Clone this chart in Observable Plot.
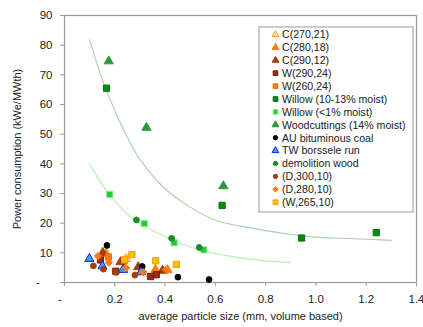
<!DOCTYPE html>
<html><head><meta charset="utf-8">
<script src="https://cdn.jsdelivr.net/npm/d3@7"></script>
<script src="https://cdn.jsdelivr.net/npm/@observablehq/plot@0.6"></script>
<style>
body{margin:0;background:#fff;font-family:"Liberation Sans",Arial,sans-serif;}
#chart{position:relative;width:423px;height:327px;overflow:hidden;}
</style></head>
<body><div id="chart"></div>
<script>
// ---- data (x: average particle size mm, y: power consumption kWe/MWth)
const xTicks = [0, 0.2, 0.4, 0.6, 0.8, 1.0, 1.2, 1.4];
const yTicks = [0, 10, 20, 30, 40, 50, 60, 70, 80, 90];

const c270_21 = [[0.16, 10.5], [0.245, 8.0]];
const c280_18 = [[0.165, 9.6], [0.362, 4.3], [0.41, 4.2]];
const c290_12 = [[0.152, 10.0], [0.223, 6.9], [0.293, 5.2], [0.39, 4.0]];
const w290_24 = [[0.143, 7.6], [0.204, 3.8], [0.342, 2.0], [0.365, 2.6]];
const w260_24 = [[0.175, 8.6], [0.239, 7.5]];
const willow1013 = [[0.167, 65.5], [0.627, 26.0], [0.943, 15.0], [1.24, 16.8]];
const willowDry = [[0.18, 29.7], [0.317, 19.9], [0.436, 13.4], [0.554, 11.0]];
const woodcuttings = [[0.176, 74.6], [0.326, 52.2], [0.632, 32.5]];
const auCoal = [[0.169, 12.5], [0.309, 5.4], [0.451, 1.8], [0.575, 1.0]];
const twBorssele = [[0.099, 8.0], [0.151, 5.5], [0.233, 4.3], [0.304, 3.5]];
const demolition = [[0.286, 21.1], [0.426, 14.9], [0.536, 11.8]];
const d300_10 = [[0.115, 5.6], [0.155, 4.5], [0.205, 3.4], [0.28, 2.5]];
const d280_10 = [[0.133, 8.9], [0.176, 6.7], [0.245, 4.9], [0.313, 3.5], [0.404, 4.3]];
const w265_10 = [[0.268, 9.4], [0.363, 7.3], [0.445, 6.1], [0.239, 7.8]];

const trendUpper = [[0.1, 81.8], [0.15, 68.5], [0.2, 58], [0.25, 49], [0.3, 41.5], [0.4, 31.6], [0.5, 25.4], [0.6, 21], [0.7, 19], [0.8, 17.5], [0.9, 16.2], [1.0, 15.3], [1.1, 14.9], [1.2, 14.6], [1.3, 14.2]];
const trendLower = [[0.1, 40], [0.15, 33], [0.2, 27.5], [0.25, 23], [0.3, 20], [0.35, 17.5], [0.4, 15.5], [0.45, 13.5], [0.5, 12.0], [0.55, 10.8], [0.6, 9.8], [0.7, 8.3], [0.8, 7.3], [0.9, 6.7]];

const series = [
  {label: "C(270,21)", data: c270_21, symbol: "triangle", fill: "#ffe6b0", stroke: "#ff9a1a"},
  {label: "C(280,18)", data: c280_18, symbol: "triangle", fill: "#ff7a10", stroke: "#ff7a10"},
  {label: "C(290,12)", data: c290_12, symbol: "triangle", fill: "#a0400f", stroke: "#a0400f"},
  {label: "W(290,24)", data: w290_24, symbol: "square", fill: "#9a2a10", stroke: "#7a1a08"},
  {label: "W(260,24)", data: w260_24, symbol: "square", fill: "#ff7a10", stroke: "#f06a00"},
  {label: "Willow (10-13% moist)", data: willow1013, symbol: "square", fill: "#0a8a1a", stroke: "#067010"},
  {label: "Willow (<1% moist)", data: willowDry, symbol: "square", fill: "#22cc33", stroke: "#88ee88"},
  {label: "Woodcuttings (14% moist)", data: woodcuttings, symbol: "triangle", fill: "#2a9a3a", stroke: "#2a9a3a"},
  {label: "AU bituminous coal", data: auCoal, symbol: "circle", fill: "#000000", stroke: "#000000"},
  {label: "TW borssele run", data: twBorssele, symbol: "triangle", fill: "#3aa0ff", stroke: "#0a28e0"},
  {label: "demolition wood", data: demolition, symbol: "circle", fill: "#1f8a2a", stroke: "#1f8a2a"},
  {label: "(D,300,10)", data: d300_10, symbol: "circle", fill: "#a0400f", stroke: "#a0400f"},
  {label: "(D,280,10)", data: d280_10, symbol: "diamond2", fill: "#ff7a10", stroke: "#ff7a10"},
  {label: "(W,265,10)", data: w265_10, symbol: "square", fill: "#ffc000", stroke: "#ff9a00"}
];
const sizeOf = s => s === "circle" ? 2.9 : s === "square" ? 3.5 : s === "diamond2" ? 3.3 : 3.4;

const chart = Plot.plot({
  width: 423,
  height: 327,
  marginLeft: 64,
  marginRight: 7,
  marginTop: 15,
  marginBottom: 45,
  style: {fontFamily: "'Liberation Sans', Arial, sans-serif", fontSize: "11px", color: "#222", background: "#fff"},
  x: {domain: [0, 1.4]},
  y: {domain: [0, 90]},
  marks: [
    Plot.frame({stroke: "#999", strokeWidth: 1.2}),
    Plot.axisY(yTicks, {tickSize: 4, tickPadding: 8, tickFormat: d => d === 0 ? "-\u00a0\u00a0\u00a0\u00a0" : d, stroke: "#999", fill: "#222", fontSize: 11.5, label: null}),
    Plot.axisX(xTicks, {tickSize: 4, tickPadding: 8, tickFormat: d => d === 0 ? "-\u00a0\u00a0\u00a0" : d3.format(".1f")(d), stroke: "#999", fill: "#222", fontSize: 11.5, label: null}),
    Plot.text(["Power consumption (kWe/MWth)"], {frameAnchor: "left", textAnchor: "middle", rotate: -90, dx: -47, fill: "#222", fontSize: 11}),
    Plot.text(["average particle size (mm, volume based)"], {frameAnchor: "bottom", dy: 37, fill: "#222", fontSize: 11}),
    Plot.line(trendUpper, {x: d => d[0], y: d => d[1], curve: "catmull-rom", stroke: "#a9d3a9", strokeWidth: 1.1}),
    Plot.line(trendLower, {x: d => d[0], y: d => d[1], curve: "catmull-rom", stroke: "#b2f0b2", strokeWidth: 1.1}),
    ...series.map(s => Plot.dot(s.data, {x: d => d[0], y: d => d[1], symbol: s.symbol, r: sizeOf(s.symbol), fill: s.fill, stroke: s.stroke, strokeWidth: 1}))
  ]
});
document.getElementById("chart").appendChild(chart);

// ---- legend drawn inside the plot area
const svg = d3.select(chart);
const lg = svg.append("g").attr("transform", "translate(259,27)");
lg.append("rect").attr("width", 154).attr("height", 185).attr("fill", "#fff").attr("stroke", "#aaa").attr("stroke-width", 1.2);
const symMap = {circle: d3.symbolCircle, square: d3.symbolSquare, triangle: d3.symbolTriangle, diamond2: d3.symbolDiamond2};
series.forEach((s, i) => {
  const y = 7.5 + i * 12.9;
  const r = sizeOf(s.symbol) * 0.75;
  lg.append("path")
    .attr("d", d3.symbol(symMap[s.symbol], r * r * Math.PI)())
    .attr("transform", `translate(16.5,${y})`)
    .attr("fill", s.fill).attr("stroke", s.stroke).attr("stroke-width", 1);
  lg.append("text").attr("x", 23).attr("y", y).attr("dy", "0.36em")
    .attr("text-anchor", "start")
    .attr("font-size", 10.6).attr("fill", "#222")
    .attr("font-family", "'Liberation Sans', Arial, sans-serif")
    .text(s.label);
});
</script>
</body></html>
